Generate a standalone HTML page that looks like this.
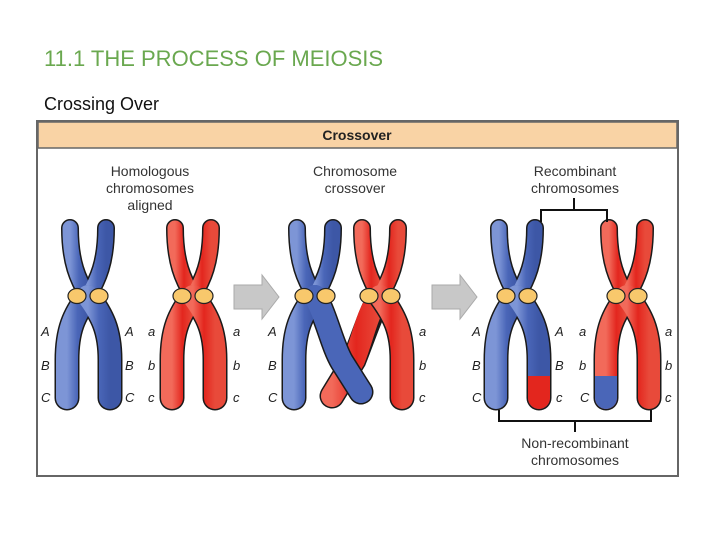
<!DOCTYPE html>
<html><head><meta charset="utf-8"><style>
body{margin:0;width:720px;height:540px;background:#fff;overflow:hidden;font-family:"Liberation Sans",sans-serif}
</style></head><body>
<svg width="720" height="540" viewBox="0 0 720 540" xmlns="http://www.w3.org/2000/svg" font-family="Liberation Sans, sans-serif">
<defs>
<linearGradient id="bl" x1="0" x2="1"><stop offset="0" stop-color="#7d95d6"/><stop offset="0.5" stop-color="#4a66b8"/><stop offset="1" stop-color="#3d57a6"/></linearGradient>
<linearGradient id="rd" x1="0" x2="1"><stop offset="0" stop-color="#f26a5a"/><stop offset="0.5" stop-color="#e3261e"/><stop offset="1" stop-color="#e84a3a"/></linearGradient>
<clipPath id="low"><rect x="0" y="376" width="720" height="60"/></clipPath>
</defs>
<text x="44" y="66" font-size="22" fill="#6aa84f">11.1 THE PROCESS OF MEIOSIS</text>
<text x="44" y="110" font-size="18" fill="#111">Crossing Over</text>
<rect x="37" y="121" width="641" height="355" fill="#fff" stroke="#666" stroke-width="2"/>
<rect x="38" y="122" width="639" height="26" fill="#f9d3a5" stroke="#666" stroke-width="1.5"/>
<text x="357" y="140" font-size="14" font-weight="bold" text-anchor="middle" fill="#222">Crossover</text>
<g font-size="14" fill="#333" text-anchor="middle">
<text x="150" y="176">Homologous</text><text x="150" y="193">chromosomes</text><text x="150" y="210">aligned</text>
<text x="355" y="176">Chromosome</text><text x="355" y="193">crossover</text>
<text x="575" y="176">Recombinant</text><text x="575" y="193">chromosomes</text>
<text x="575" y="448">Non-recombinant</text><text x="575" y="465">chromosomes</text>
</g>
<!-- arrows -->
<path d="M234 285 H262 V275 L279 297 L262 319 V309 H234 Z" fill="#c8c8c8" stroke="#aaa"/>
<path d="M432 285 H460 V275 L477 297 L460 319 V309 H432 Z" fill="#c8c8c8" stroke="#aaa"/>
<!-- chromatid helper: drawn inline -->
<g stroke-linecap="round" fill="none">
<!-- Chromosome template function replicated -->
<!-- blue1 cx=88 -->
<g id="c1">
<path d="M70 228 C70 262 78 280 88 296" stroke="#1a1a1a" stroke-width="18"/>
<path d="M106 228 C106 262 98 280 88 296" stroke="#1a1a1a" stroke-width="18"/>
<path d="M88 296 C74 315 67 330 67 360 L67 398" stroke="#1a1a1a" stroke-width="25"/>
<path d="M88 296 C102 315 110 330 110 360 L110 398" stroke="#1a1a1a" stroke-width="25"/>
<path d="M70 228 C70 262 78 280 88 296" stroke="url(#bl)" stroke-width="15"/>
<path d="M106 228 C106 262 98 280 88 296" stroke="url(#bl)" stroke-width="15"/>
<path d="M88 296 C74 315 67 330 67 360 L67 398" stroke="url(#bl)" stroke-width="22"/>
<path d="M88 296 C102 315 110 330 110 360 L110 398" stroke="url(#bl)" stroke-width="22"/>
</g>
<!-- red1 cx=193 -->
<g transform="translate(105,0)">
<path d="M70 228 C70 262 78 280 88 296" stroke="#1a1a1a" stroke-width="18"/>
<path d="M106 228 C106 262 98 280 88 296" stroke="#1a1a1a" stroke-width="18"/>
<path d="M88 296 C74 315 67 330 67 360 L67 398" stroke="#1a1a1a" stroke-width="25"/>
<path d="M88 296 C102 315 110 330 110 360 L110 398" stroke="#1a1a1a" stroke-width="25"/>
<path d="M70 228 C70 262 78 280 88 296" stroke="url(#rd)" stroke-width="15"/>
<path d="M106 228 C106 262 98 280 88 296" stroke="url(#rd)" stroke-width="15"/>
<path d="M88 296 C74 315 67 330 67 360 L67 398" stroke="url(#rd)" stroke-width="22"/>
<path d="M88 296 C102 315 110 330 110 360 L110 398" stroke="url(#rd)" stroke-width="22"/>
</g>
<!-- middle: red2 cx=380 (translate 292) -->
<g transform="translate(292,0)">
<path d="M88 296 C78 315 72 335 62 360 L40 396" stroke="#1a1a1a" stroke-width="25"/>
<path d="M88 296 C74 315 72 335 62 360 L40 396" stroke="url(#rd)" stroke-width="22"/>
<path d="M70 228 C70 262 78 280 88 296" stroke="#1a1a1a" stroke-width="18"/>
<path d="M106 228 C106 262 98 280 88 296" stroke="#1a1a1a" stroke-width="18"/>
<path d="M88 296 C102 315 110 330 110 360 L110 398" stroke="#1a1a1a" stroke-width="25"/>
<path d="M70 228 C70 262 78 280 88 296" stroke="url(#rd)" stroke-width="15"/>
<path d="M106 228 C106 262 98 280 88 296" stroke="url(#rd)" stroke-width="15"/>
<path d="M88 296 C102 315 110 330 110 360 L110 398" stroke="url(#rd)" stroke-width="22"/>
</g>
<!-- blue2 cx=315 (translate 227) -->
<g transform="translate(227,0)">
<path d="M70 228 C70 262 78 280 88 296" stroke="#1a1a1a" stroke-width="18"/>
<path d="M106 228 C106 262 98 280 88 296" stroke="#1a1a1a" stroke-width="18"/>
<path d="M88 296 C74 315 67 330 67 360 L67 398" stroke="#1a1a1a" stroke-width="25"/>
<path d="M88 296 C100 318 105 345 115 362 L134 392" stroke="#1a1a1a" stroke-width="25"/>
<path d="M70 228 C70 262 78 280 88 296" stroke="url(#bl)" stroke-width="15"/>
<path d="M106 228 C106 262 98 280 88 296" stroke="url(#bl)" stroke-width="15"/>
<path d="M88 296 C74 315 67 330 67 360 L67 398" stroke="url(#bl)" stroke-width="22"/>
<path d="M88 296 C100 318 105 345 115 362 L134 392" stroke="#4a66b8" stroke-width="22"/>
</g>
<!-- blue3 cx=517 (translate 429) -->
<g transform="translate(429,0)">
<path d="M70 228 C70 262 78 280 88 296" stroke="#1a1a1a" stroke-width="18"/>
<path d="M106 228 C106 262 98 280 88 296" stroke="#1a1a1a" stroke-width="18"/>
<path d="M88 296 C74 315 67 330 67 360 L67 398" stroke="#1a1a1a" stroke-width="25"/>
<path d="M88 296 C102 315 110 330 110 360 L110 398" stroke="#1a1a1a" stroke-width="25"/>
<path d="M70 228 C70 262 78 280 88 296" stroke="url(#bl)" stroke-width="15"/>
<path d="M106 228 C106 262 98 280 88 296" stroke="url(#bl)" stroke-width="15"/>
<path d="M88 296 C74 315 67 330 67 360 L67 398" stroke="url(#bl)" stroke-width="22"/>
<path d="M88 296 C102 315 110 330 110 360 L110 398" stroke="url(#bl)" stroke-width="22"/>
<path d="M88 296 C102 315 110 330 110 360 L110 398" stroke="#e3261e" stroke-width="22" clip-path="url(#low)"/>
</g>
<!-- red3 cx=627 (translate 539) -->
<g transform="translate(539,0)">
<path d="M70 228 C70 262 78 280 88 296" stroke="#1a1a1a" stroke-width="18"/>
<path d="M106 228 C106 262 98 280 88 296" stroke="#1a1a1a" stroke-width="18"/>
<path d="M88 296 C74 315 67 330 67 360 L67 398" stroke="#1a1a1a" stroke-width="25"/>
<path d="M88 296 C102 315 110 330 110 360 L110 398" stroke="#1a1a1a" stroke-width="25"/>
<path d="M70 228 C70 262 78 280 88 296" stroke="url(#rd)" stroke-width="15"/>
<path d="M106 228 C106 262 98 280 88 296" stroke="url(#rd)" stroke-width="15"/>
<path d="M88 296 C74 315 67 330 67 360 L67 398" stroke="url(#rd)" stroke-width="22"/>
<path d="M88 296 C102 315 110 330 110 360 L110 398" stroke="url(#rd)" stroke-width="22"/>
<path d="M88 296 C74 315 67 330 67 360 L67 398" stroke="#4a66b8" stroke-width="22" clip-path="url(#low)"/>
</g>
</g>
<!-- centromeres -->
<g fill="#f8c86c" stroke="#222" stroke-width="1.2">
<ellipse cx="77" cy="296" rx="9" ry="7.5"/><ellipse cx="99" cy="296" rx="9" ry="7.5"/>
<ellipse cx="182" cy="296" rx="9" ry="7.5"/><ellipse cx="204" cy="296" rx="9" ry="7.5"/>
<ellipse cx="304" cy="296" rx="9" ry="7.5"/><ellipse cx="326" cy="296" rx="9" ry="7.5"/>
<ellipse cx="369" cy="296" rx="9" ry="7.5"/><ellipse cx="391" cy="296" rx="9" ry="7.5"/>
<ellipse cx="506" cy="296" rx="9" ry="7.5"/><ellipse cx="528" cy="296" rx="9" ry="7.5"/>
<ellipse cx="616" cy="296" rx="9" ry="7.5"/><ellipse cx="638" cy="296" rx="9" ry="7.5"/>
</g>
<!-- brackets -->
<g stroke="#111" stroke-width="2" fill="none">
<path d="M541 222 V210 H607 V222 M574 210 V198"/>
<path d="M499 410 V421 H651 V410 M575 421 V432"/>
</g>
<!-- gene labels -->
<g font-size="13" font-style="italic" fill="#222">
<text x="41" y="336">A</text><text x="41" y="370">B</text><text x="41" y="402">C</text>
<text x="125" y="336">A</text><text x="125" y="370">B</text><text x="125" y="402">C</text>
<text x="148" y="336">a</text><text x="148" y="370">b</text><text x="148" y="402">c</text>
<text x="233" y="336">a</text><text x="233" y="370">b</text><text x="233" y="402">c</text>
<text x="268" y="336">A</text><text x="268" y="370">B</text><text x="268" y="402">C</text>
<text x="419" y="336">a</text><text x="419" y="370">b</text><text x="419" y="402">c</text>
<text x="472" y="336">A</text><text x="472" y="370">B</text><text x="472" y="402">C</text>
<text x="555" y="336">A</text><text x="555" y="370">B</text><text x="556" y="402">c</text>
<text x="579" y="336">a</text><text x="579" y="370">b</text><text x="580" y="402">C</text>
<text x="665" y="336">a</text><text x="665" y="370">b</text><text x="665" y="402">c</text>
</g>
</svg>
</body></html>
